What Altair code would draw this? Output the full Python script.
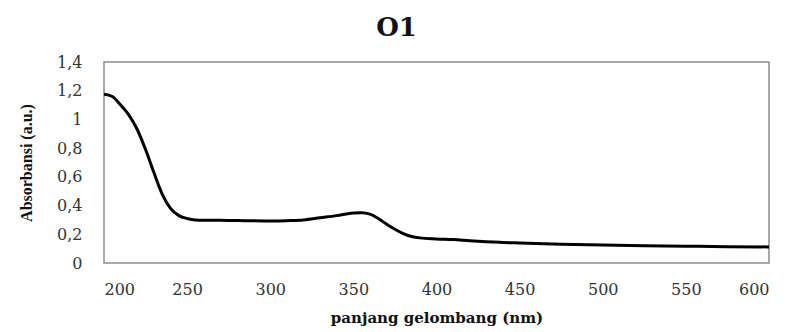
import altair as alt
import pandas as pd

wavelength = [200, 205, 210, 215, 220, 225, 230, 235, 240, 245, 250, 255, 260, 270, 280,
              290, 300, 310, 320, 330, 340, 350, 355, 360, 365, 370, 375, 380, 385, 390,
              400, 410, 420, 430, 440, 450, 475, 500, 525, 550, 575, 600]
absorbance = [1.175, 1.16, 1.10, 1.03, 0.93, 0.79, 0.63, 0.48, 0.38, 0.33, 0.31, 0.30, 0.298,
              0.297, 0.296, 0.294, 0.293, 0.295, 0.30, 0.315, 0.33, 0.348, 0.35, 0.34, 0.31,
              0.27, 0.235, 0.205, 0.185, 0.175, 0.168, 0.163, 0.155, 0.148, 0.143, 0.139,
              0.131, 0.126, 0.121, 0.117, 0.114, 0.112]
x_ticks = [200, 250, 300, 350, 400, 450, 500, 550, 600]
y_ticks = [0, 0.2, 0.4, 0.6, 0.8, 1.0, 1.2, 1.4]

df = pd.DataFrame({"wl": wavelength, "abs": absorbance})

chart = alt.Chart(df).mark_line(color="black", strokeWidth=3, interpolate="monotone").encode(
    x=alt.X("wl:Q", scale=alt.Scale(domain=[200, 600], nice=False),
            axis=alt.Axis(values=x_ticks, title="panjang gelombang (nm)", grid=False,
                          domain=False, ticks=False, labelPadding=18,
                          labelFont="DejaVu Serif", labelFontSize=16, labelColor="#333",
                          titleFont="DejaVu Serif", titleFontSize=15, titleFontWeight="bold",
                          titleColor="#111", titlePadding=13)),
    y=alt.Y("abs:Q", scale=alt.Scale(domain=[0, 1.4], nice=False),
            axis=alt.Axis(values=y_ticks, title="Absorbansi (a.u.)", grid=False,
                          domain=False, ticks=False, labelPadding=22,
                          labelExpr="replace(toString(datum.value), '.', ',')",
                          labelFont="DejaVu Serif", labelFontSize=16, labelColor="#333",
                          titleFont="Liberation Serif", titleFontSize=16, titleFontWeight="bold",
                          titleColor="#111", titlePadding=22)),
).properties(
    width=665, height=201,
    title=alt.TitleParams("O1", font="DejaVu Serif", fontSize=26, fontWeight="bold",
                          color="#111", anchor="middle", dx=-40, offset=13),
    autosize=alt.AutoSizeParams(type="none"),
    padding={"left": 96, "top": 54, "right": 15, "bottom": 67},
).configure_view(stroke="#8c8c8c", strokeWidth=1.5)

chart.save("out.html", embed_options={"renderer": "svg", "actions": False})
